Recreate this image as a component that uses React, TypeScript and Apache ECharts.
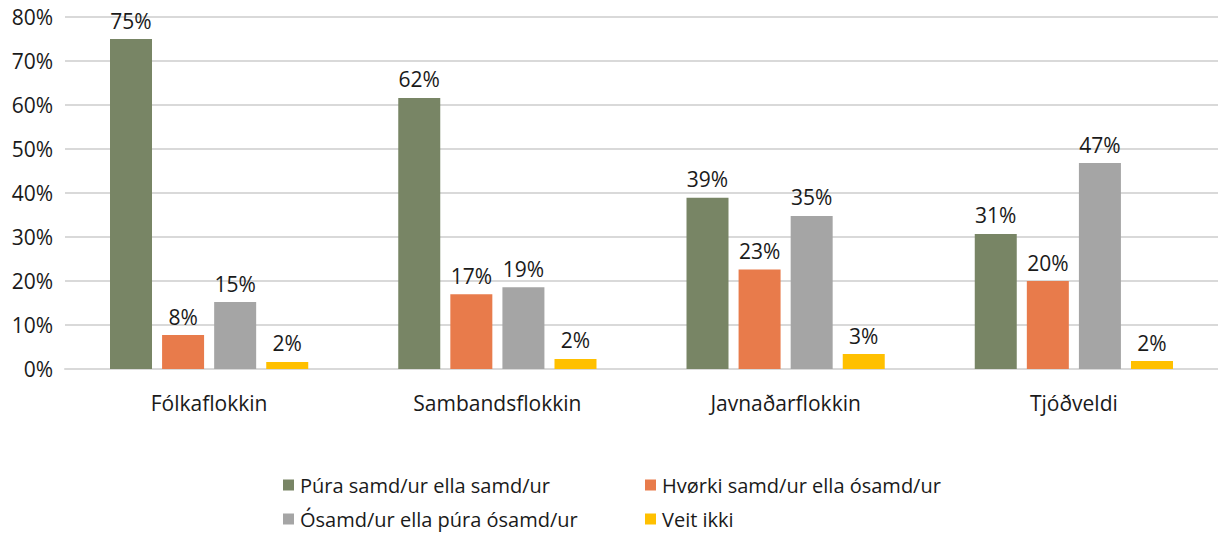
import React, { useEffect, useRef } from "react";
import * as echarts from "echarts";

const categories = ["Fólkaflokkin", "Sambandsflokkin", "Javnaðarflokkin", "Tjóðveldi"];
const seriesNames = [
  "Púra samd/ur ella samd/ur",
  "Hvørki samd/ur ella ósamd/ur",
  "Ósamd/ur ella púra ósamd/ur",
  "Veit ikki",
];
const agree = [75.0, 61.6, 38.9, 30.7];
const neither = [7.7, 17.0, 22.6, 20.0];
const disagree = [15.2, 18.6, 34.8, 46.8];
const dontKnow = [1.6, 2.3, 3.4, 1.8];
const colors = ["#788565", "#E87B4B", "#A5A5A5", "#FFC000"];
const yTicks = { min: 0, max: 80, interval: 10 };

const FONT = "Open Sans";

export default function App() {
  const ref = useRef<HTMLDivElement>(null);
  useEffect(() => {
    if (!ref.current) return;
    const chart = echarts.init(ref.current, null, { renderer: "svg" });
    const values = [agree, neither, disagree, dontKnow];
    const legendPos = [
      { left: 278, top: 470 },
      { left: 640, top: 470 },
      { left: 278, top: 504 },
      { left: 640, top: 504 },
    ];
    chart.setOption({
      animation: false,
      textStyle: { fontFamily: FONT },
      grid: { left: 65, right: 0, top: 17, bottom: 164 },
      legend: seriesNames.map((name, i) => ({
        data: [name],
        left: legendPos[i].left,
        top: legendPos[i].top,
        itemWidth: 11,
        itemHeight: 11,
        itemGap: 6,
        icon: "rect",
        textStyle: { fontFamily: FONT, fontSize: 20, color: "#1a1a1a", padding: [0, 0, 0, 1] },
      })),
      xAxis: {
        type: "category",
        data: categories,
        axisTick: { show: false },
        axisLine: { show: true, lineStyle: { color: "#d9d9d9", width: 2 } },
        axisLabel: { fontFamily: FONT, fontSize: 21, color: "#1a1a1a", margin: 23 },
      },
      yAxis: {
        type: "value",
        min: yTicks.min,
        max: yTicks.max,
        interval: yTicks.interval,
        axisLine: { show: false },
        axisTick: { show: false },
        splitLine: { lineStyle: { color: "#d9d9d9", width: 2 } },
        axisLabel: {
          fontFamily: FONT,
          fontSize: 21,
          color: "#1a1a1a",
          margin: 12,
          formatter: "{value}%",
        },
      },
      series: seriesNames.map((name, i) => ({
        name,
        type: "bar",
        data: values[i],
        barWidth: 42,
        barGap: "24%",
        itemStyle: { color: colors[i] },
        label: {
          show: true,
          position: "top",
          distance: 8,
          fontFamily: FONT,
          fontSize: 21,
          color: "#1a1a1a",
          formatter: (p: any) => Math.round(p.value) + "%",
        },
      })),
    });
    return () => chart.dispose();
  }, []);
  return (
    <div
      ref={ref}
      style={{ position: "fixed", left: 0, top: 0, width: 1218, height: 533, background: "#fff" }}
    />
  );
}
